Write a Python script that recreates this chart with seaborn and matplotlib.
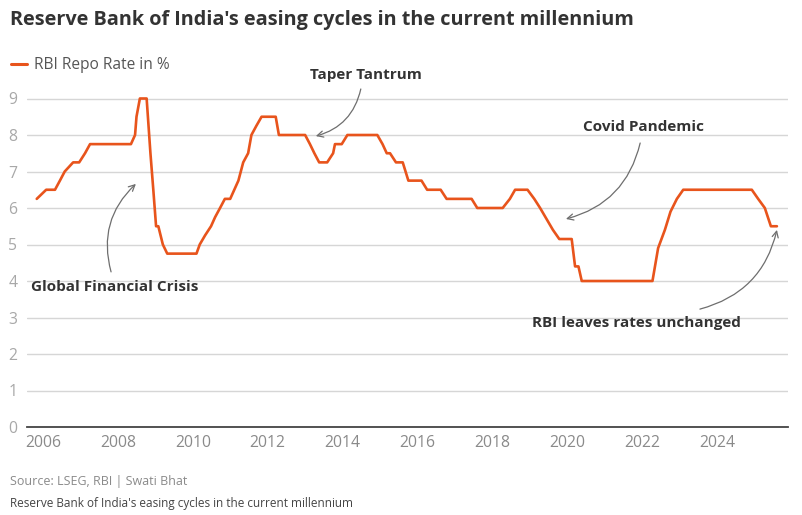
import pandas as pd
import matplotlib.pyplot as plt
import seaborn as sns

# vertices of the repo rate line
dates = ['2005-11-01', '2006-02-01', '2006-04-28', '2006-06-15', '2006-08-01',
         '2006-10-22', '2006-12-20', '2007-02-15', '2007-04-05', '2008-05-08',
         '2008-06-17', '2008-07-01', '2008-08-03', '2008-10-08', '2008-11-14',
         '2008-12-12', '2009-01-08', '2009-01-30', '2009-03-15', '2009-04-27',
         '2010-02-06', '2010-03-10', '2010-05-01', '2010-06-28', '2010-08-07',
         '2010-09-24', '2010-11-10', '2011-01-01', '2011-02-10', '2011-03-22',
         '2011-05-08', '2011-06-25', '2011-07-27', '2011-09-13', '2011-11-03',
         '2012-03-20', '2012-04-20', '2013-01-01', '2013-02-17', '2013-04-01',
         '2013-05-18', '2013-08-04', '2013-10-01', '2013-10-19', '2013-12-24',
         '2014-02-17', '2014-12-06', '2015-01-26', '2015-03-08', '2015-04-09',
         '2015-06-06', '2015-08-11', '2015-10-05', '2016-02-10', '2016-04-05',
         '2016-08-15', '2016-10-12', '2017-06-13', '2017-08-07', '2018-04-12',
         '2018-06-21', '2018-08-11', '2018-12-10', '2019-02-14', '2019-04-12',
         '2019-06-03', '2019-08-15', '2019-10-16', '2020-02-14', '2020-03-18',
         '2020-04-20', '2020-05-22', '2022-04-12', '2022-06-06', '2022-08-11',
         '2022-10-05', '2022-12-06', '2023-02-06', '2024-12-06', '2025-02-06',
         '2025-04-12', '2025-06-10', '2025-08-08']
rates = [6.25, 6.5, 6.5, 6.75, 7.0,
         7.25, 7.25, 7.5, 7.75, 7.75,
         8.0, 8.5, 9.0, 9.0, 7.5,
         6.5, 5.5, 5.5, 5.0, 4.75,
         4.75, 5.0, 5.25, 5.5, 5.75,
         6.0, 6.25, 6.25, 6.5, 6.75,
         7.25, 7.5, 8.0, 8.25, 8.5,
         8.5, 8.0, 8.0, 7.75, 7.5,
         7.25, 7.25, 7.5, 7.75, 7.75,
         8.0, 8.0, 7.75, 7.5, 7.5,
         7.25, 7.25, 6.75, 6.75, 6.5,
         6.5, 6.25, 6.25, 6.0, 6.0,
         6.25, 6.5, 6.5, 6.25, 6.0,
         5.75, 5.4, 5.15, 5.15, 4.4,
         4.4, 4.0, 4.0, 4.9, 5.4,
         5.9, 6.25, 6.5, 6.5, 6.25,
         6.0, 5.5, 5.5]
year_ticks = list(range(2006, 2025, 2))
rate_ticks = list(range(0, 10))

df = pd.DataFrame({'date': pd.to_datetime(dates), 'rate': rates})

sns.set_theme(style='white')
plt.rcParams['font.family'] = ['Open Sans', 'DejaVu Sans']

orange = '#e8541c'
dark = '#333333'

fig = plt.figure(figsize=(8.03, 5.15), dpi=100)
ax = fig.add_axes([27 / 803, 1 - 427 / 515, (788 - 27) / 803, (427 - 76.6) / 515])

sns.lineplot(data=df, x='date', y='rate', ax=ax, color=orange, linewidth=1.9,
             label='RBI Repo Rate in %', zorder=3)

ax.set_xlim(pd.Timestamp('2005-07-29'), pd.Timestamp('2025-11-24'))
ax.set_ylim(0, 9.6)
ax.set_xticks([pd.Timestamp(f'{y}-01-01') for y in year_ticks])
ax.set_xticklabels([str(y) for y in year_ticks])
ax.set_yticks(rate_ticks)
ax.set_yticklabels([str(v) for v in rate_ticks])
ax.tick_params(axis='x', length=0, pad=6, labelsize=11.3, labelcolor='#8a8a8a')
ax.tick_params(axis='y', length=0, pad=7, labelsize=11.3, labelcolor='#a8a8a8')
ax.set_xlabel('')
ax.set_ylabel('')
ax.grid(axis='y', color='#d6d6d6', linewidth=1)
for side in ['top', 'right', 'left']:
    ax.spines[side].set_visible(False)
ax.spines['bottom'].set_color('#444444')
ax.spines['bottom'].set_linewidth(1.3)
ax.spines['bottom'].set_zorder(4)

leg = ax.legend(loc='center left', bbox_to_anchor=(5 / 803, 1 - 65 / 515),
                bbox_transform=fig.transFigure, frameon=False, fontsize=11.2,
                handlelength=1.0, handletextpad=0.45, borderaxespad=0)
for t in leg.get_texts():
    t.set_color('#555555')
leg.get_lines()[0].set_linewidth(2.2)

fig.text(10 / 803, 1 - 20 / 515, "Reserve Bank of India's easing cycles in the current millennium",
         fontsize=14.3, fontweight='bold', color=dark, va='center', ha='left')
fig.text(10 / 803, 1 - 482 / 515, 'Source: LSEG, RBI | Swati Bhat',
         fontsize=9, color='#8a8a8a', va='center', ha='left')
fig.text(10 / 803, 1 - 503 / 515, "Reserve Bank of India's easing cycles in the current millennium",
         fontsize=8.5, color='#444444', va='center', ha='left')

arrow = dict(arrowstyle='->', color='#6e6e6e', lw=0.9, shrinkA=0, shrinkB=0,
             mutation_scale=11)
notes = [
    ('Taper Tantrum', ('2014-08-18', 9.64), 'center',
     ('2014-06-28', 9.26), ('2013-04-15', 7.97), -0.3),
    ('Global Financial Crisis', ('2005-09-06', 3.84), 'left',
     ('2007-10-27', 4.25), ('2008-06-25', 6.66), -0.3),
    ('Covid Pandemic', ('2022-01-15', 8.22), 'center',
     ('2021-12-13', 7.78), ('2019-12-20', 5.70), -0.3),
    ('RBI leaves rates unchanged', ('2021-11-06', 2.85), 'center',
     ('2023-07-19', 3.23), ('2025-08-08', 5.40), 0.3),
]
for label, (tx, ty), ha, (sx, sy), (ex, ey), rad in notes:
    ax.text(pd.Timestamp(tx), ty, label, ha=ha, va='center', fontsize=11,
            fontweight='bold', color=dark, clip_on=False, zorder=5)
    props = dict(arrow, connectionstyle=f'arc3,rad={rad}')
    ax.annotate('', xy=(pd.Timestamp(ex), ey), xytext=(pd.Timestamp(sx), sy),
                arrowprops=props, annotation_clip=False)

fig.savefig('out.png', dpi=100)
